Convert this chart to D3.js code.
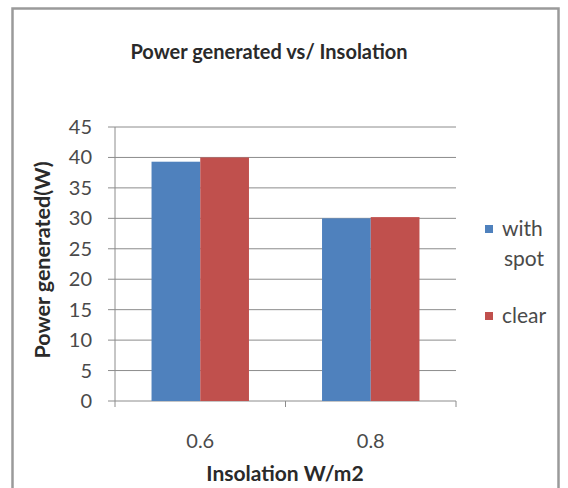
<!DOCTYPE html>
<html><head><meta charset="utf-8">
<script src="https://cdn.jsdelivr.net/npm/d3@7"></script>
<style>body{margin:0;background:#fff}svg{display:block}</style>
</head><body>
<script>
const categories = ["0.6", "0.8"];
const seriesNames = ["with spot", "clear"];
const withSpot = [39.3, 30];
const clear = [40, 30.2];
const yTicks = [0, 5, 10, 15, 20, 25, 30, 35, 40, 45];
const colors = ["#4F81BD", "#C0504D"];

const W = 568, H = 488;
const svg = d3.select("body").append("svg").attr("width", W).attr("height", H);
const font = "Lato, 'Open Sans', sans-serif";

// outer frame
svg.append("rect").attr("x", 12.5).attr("y", 8.5).attr("width", 546).attr("height", 490)
  .attr("fill", "#fff").attr("stroke", "#9a9a9a").attr("stroke-width", 2.5);

const x0 = d3.scaleBand().domain(categories).range([115, 456]).paddingInner(0).paddingOuter(0);
const x1 = d3.scaleBand().domain(seriesNames).range([0, x0.bandwidth()]).paddingInner(0).paddingOuter(0.75);
const y = d3.scaleLinear().domain([0, 45]).range([401, 127]);

// gridlines
svg.append("g").selectAll("line").data(yTicks).join("line")
  .attr("x1", 108).attr("x2", 456).attr("y1", d => y(d)).attr("y2", d => y(d))
  .attr("stroke", "#8c8c8c").attr("stroke-width", 1);

// y axis
svg.append("line").attr("x1", 115).attr("x2", 115).attr("y1", y(45)).attr("y2", y(0))
  .attr("stroke", "#8c8c8c");
// x axis ticks
const xTickPos = [115, 115 + x0.bandwidth(), 456];
svg.append("g").selectAll("line").data(xTickPos).join("line")
  .attr("x1", d => d).attr("x2", d => d).attr("y1", y(0)).attr("y2", y(0) + 6)
  .attr("stroke", "#8c8c8c");

// bars
const data = categories.map((c, i) => ({c, vals: [withSpot[i], clear[i]]}));
const g = svg.append("g");
data.forEach(d => {
  g.selectAll(null).data(d.vals.map((v, j) => ({v, s: seriesNames[j], j}))).join("rect")
    .attr("x", e => x0(d.c) + x1(e.s))
    .attr("width", x1.bandwidth())
    .attr("y", e => y(e.v))
    .attr("height", e => y(0) - y(e.v))
    .attr("fill", e => colors[e.j]);
});

// y tick labels
svg.append("g").selectAll("text").data(yTicks).join("text")
  .attr("x", 92).attr("y", d => y(d)).attr("dy", "0.35em")
  .attr("text-anchor", "end").attr("font-family", font).attr("font-size", 20)
  .attr("fill", "#4a4a4a").text(d => d);

// x tick labels
svg.append("g").selectAll("text").data(categories).join("text")
  .attr("x", d => x0(d) + x0.bandwidth() / 2).attr("y", 441).attr("dy", "0.35em")
  .attr("text-anchor", "middle").attr("font-family", font).attr("font-size", 20)
  .attr("fill", "#4a4a4a").text(d => d);

// titles
svg.append("text").attr("x", 269).attr("y", 52).attr("dy", "0.35em")
  .attr("text-anchor", "middle").attr("font-family", font).attr("font-size", 20)
  .attr("font-weight", "bold").attr("fill", "#2a2a2a").text("Power generated vs/ Insolation");
svg.append("text").attr("x", 285).attr("y", 474).attr("dy", "0.35em")
  .attr("text-anchor", "middle").attr("font-family", font).attr("font-size", 21)
  .attr("font-weight", "bold").attr("fill", "#2a2a2a").text("Insolation W/m2");
svg.append("text").attr("transform", "translate(42,260) rotate(-90)").attr("dy", "0.35em")
  .attr("text-anchor", "middle").attr("font-family", font).attr("font-size", 21.5)
  .attr("font-weight", "bold").attr("fill", "#2a2a2a").text("Power generated(W)");

// legend
const leg = [{lines: ["with", "spot"], y: 229}, {lines: ["clear"], y: 316}];
leg.forEach((l, i) => {
  svg.append("rect").attr("x", 485).attr("y", l.y - 4).attr("width", 8).attr("height", 8).attr("fill", colors[i]);
  l.lines.forEach((t, k) => {
    svg.append("text").attr("x", 502).attr("y", l.y + k * 30).attr("dy", "0.35em")
      .attr("font-family", font).attr("font-size", 21).attr("fill", "#4a4a4a")
      .attr("dx", k === 0 ? 0 : 2).text(t);
  });
});
</script>
</body></html>
